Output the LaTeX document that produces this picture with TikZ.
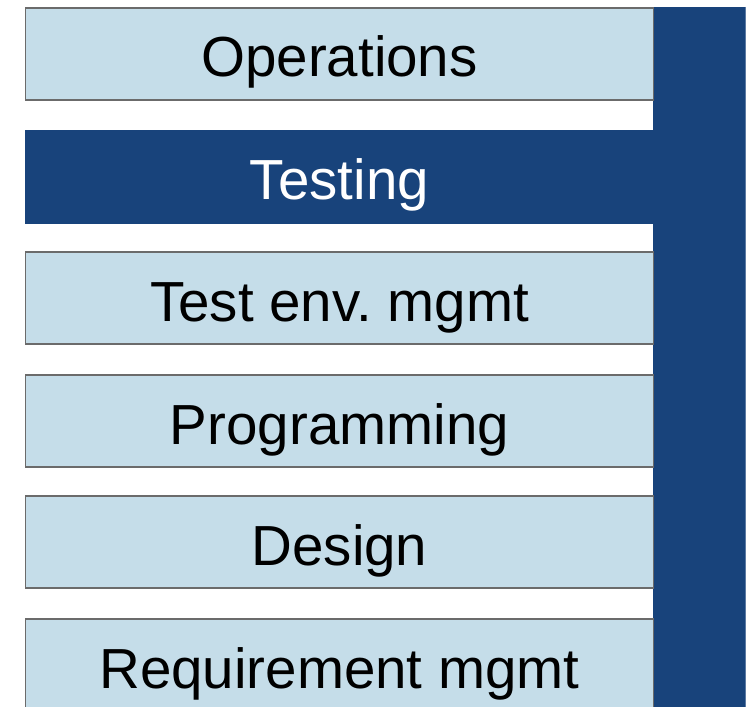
\documentclass[tikz,border=0pt]{standalone}
\usepackage{fontspec}
\setmainfont{Liberation Sans}
\definecolor{lightbox}{HTML}{C5DDE9}
\definecolor{darkbox}{HTML}{18437B}
\definecolor{boxline}{HTML}{6B6B6B}
\frenchspacing
\begin{document}
\begin{tikzpicture}[x=1pt,y=-1pt,
  layer/.style={rectangle, draw=boxline, line width=1.5pt, fill=lightbox,
    minimum width=628pt, minimum height=92pt, inner sep=0pt,
    text height=58pt, text depth=12pt,
    font=\fontsize{56.5}{60}\selectfont, text=black},
  active/.style={layer, draw=none, fill=darkbox, text=white, minimum height=94pt}]
\useasboundingbox (0,0) rectangle (751,706);
\clip (0,0) rectangle (751,706);
\fill[white] (0,0) rectangle (751,706);
% vertical bar
\fill[darkbox] (653,7) rectangle (745,720);
\draw[color=darkbox!70!white, line width=0.8pt] (745,7) -- (745,720);
\node[layer]  (ops)  at (339.5,54)  {Operations};
\node[active, minimum width=641pt] (test) at (345,177) {};
\node[white, font=\fontsize{56.5}{60}\selectfont, text height=58pt, text depth=12pt, inner sep=0pt] (testlbl) at (339.5,176.5) {Testing};
\node[layer]  (env)  at (339.5,298) {Test env. mgmt};
\node[layer]  (prog) at (339.5,421) {Programming};
\node[layer]  (des)  at (339.5,542) {Design};
\node[layer]  (req)  at (339.5,665) {Requirement mgmt};
\end{tikzpicture}
\end{document}
